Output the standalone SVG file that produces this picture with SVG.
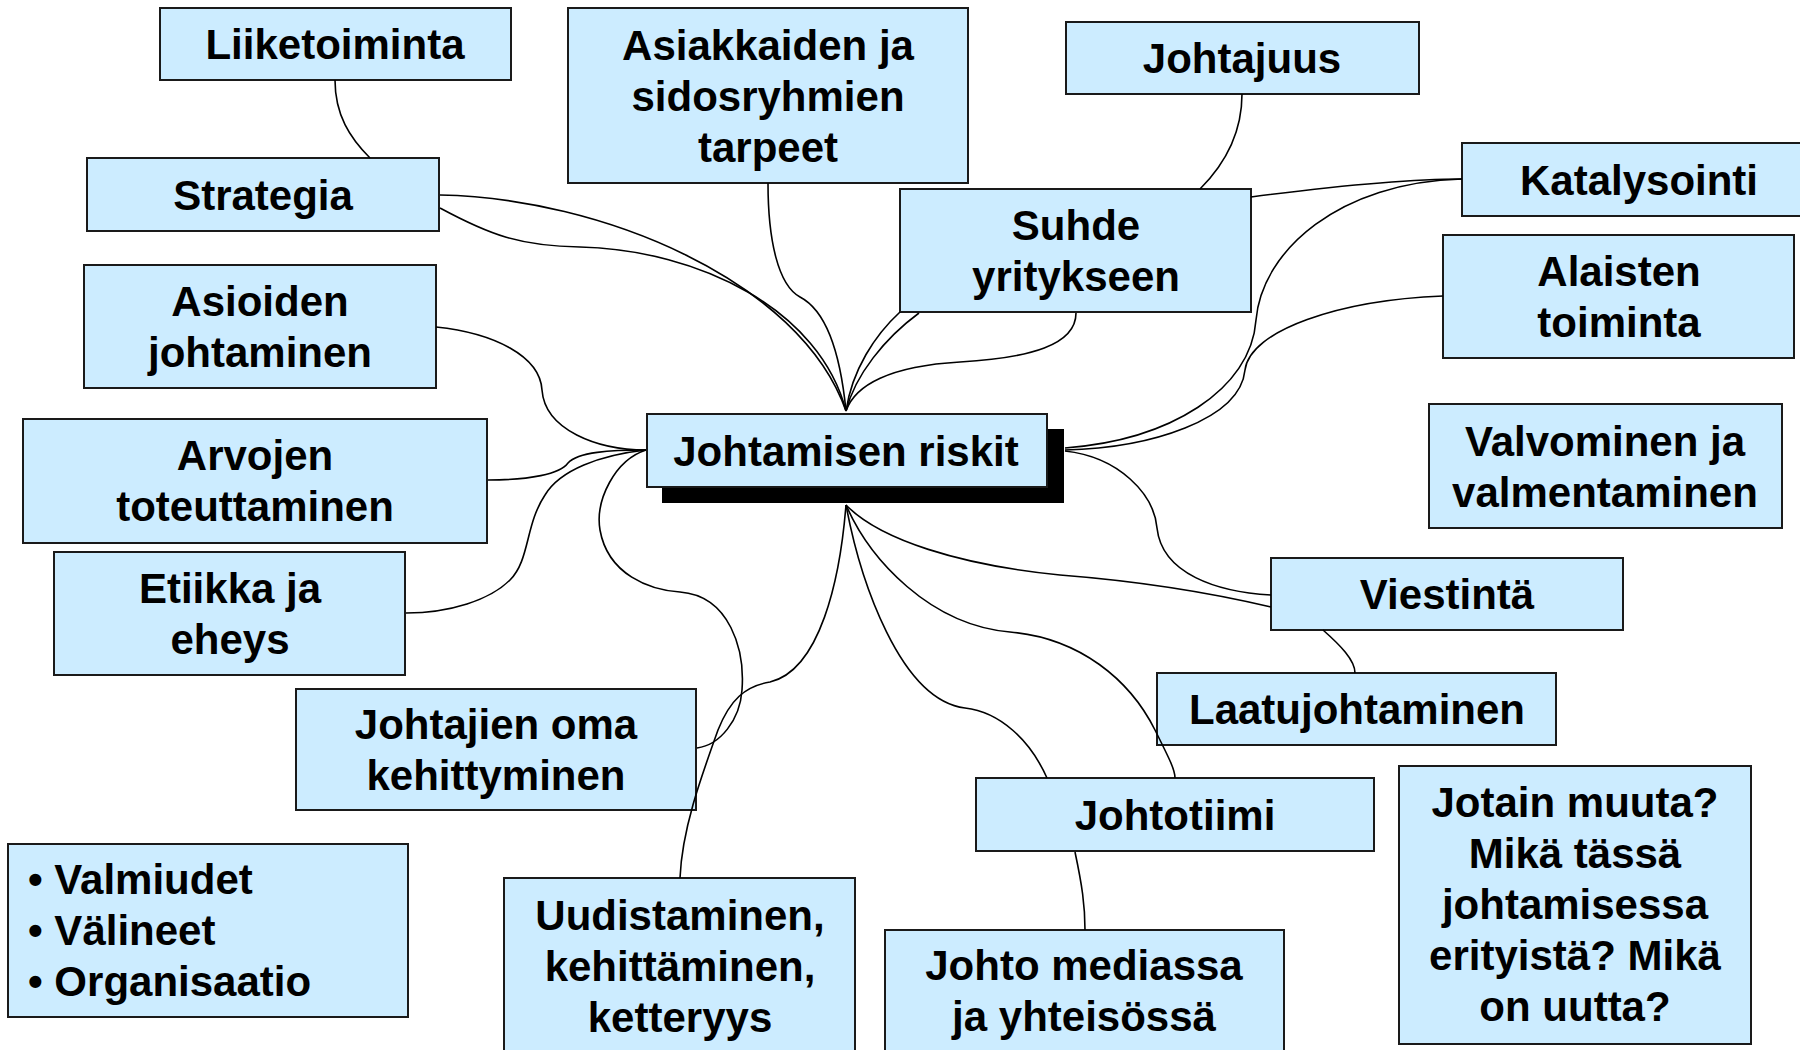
<svg xmlns="http://www.w3.org/2000/svg" width="1800" height="1050" viewBox="0 0 1800 1050">
<style>
.box{fill:#CCECFF;stroke:#1a1a1a;stroke-width:2}
.sh{fill:#000}
.t{font-family:"Liberation Sans",Arial,sans-serif;font-weight:bold;font-size:42px;fill:#000;text-anchor:middle}
.l{text-anchor:start}
.c{fill:none;stroke:#000;stroke-width:1.6}
</style>
<rect width="1800" height="1050" fill="#fff"/>
<g id="n-liiketoiminta"><rect class="box" x="160" y="8" width="351" height="72"/><text class="t" x="335" y="59">Liiketoiminta</text></g>
<g id="n-strategia"><rect class="box" x="87" y="158" width="352" height="73"/><text class="t" x="263" y="210">Strategia</text></g>
<g id="n-asioiden"><rect class="box" x="84" y="265" width="352" height="123"/><text class="t" x="260" y="316">Asioiden</text><text class="t" x="260" y="367">johtaminen</text></g>
<g id="n-arvojen"><rect class="box" x="23" y="419" width="464" height="124"/><text class="t" x="255" y="470">Arvojen</text><text class="t" x="255" y="521">toteuttaminen</text></g>
<g id="n-etiikka"><rect class="box" x="54" y="552" width="351" height="123"/><text class="t" x="230" y="603">Etiikka ja</text><text class="t" x="230" y="654">eheys</text></g>
<g id="n-johtajien"><rect class="box" x="296" y="689" width="400" height="121"/><text class="t" x="496" y="739">Johtajien oma</text><text class="t" x="496" y="790">kehittyminen</text></g>
<g id="n-valmiudet"><rect class="box" x="8" y="844" width="400" height="173"/><text class="t l" x="28" y="894">• Valmiudet</text><text class="t l" x="28" y="945">• Välineet</text><text class="t l" x="28" y="996">• Organisaatio</text></g>
<g id="n-uudistaminen"><rect class="box" x="504" y="878" width="351" height="185"/><text class="t" x="680" y="930">Uudistaminen,</text><text class="t" x="680" y="981">kehittäminen,</text><text class="t" x="680" y="1032">ketteryys</text></g>
<g id="n-asiakkaiden"><rect class="box" x="568" y="8" width="400" height="175"/><text class="t" x="768" y="60">Asiakkaiden ja</text><text class="t" x="768" y="111">sidosryhmien</text><text class="t" x="768" y="162">tarpeet</text></g>
<g id="n-johtajuus"><rect class="box" x="1066" y="22" width="353" height="72"/><text class="t" x="1242" y="73">Johtajuus</text></g>
<g id="n-suhde"><rect class="box" x="900" y="189" width="351" height="123"/><text class="t" x="1076" y="240">Suhde</text><text class="t" x="1076" y="291">yritykseen</text></g>
<g id="n-katalysointi"><rect class="box" x="1462" y="143" width="350" height="73"/><text class="t" x="1639" y="195">Katalysointi</text></g>
<g id="n-alaisten"><rect class="box" x="1443" y="235" width="351" height="123"/><text class="t" x="1619" y="286">Alaisten</text><text class="t" x="1619" y="337">toiminta</text></g>
<g id="n-valvominen"><rect class="box" x="1429" y="404" width="353" height="124"/><text class="t" x="1605" y="456">Valvominen ja</text><text class="t" x="1605" y="507">valmentaminen</text></g>
<g id="n-viestinta"><rect class="box" x="1271" y="558" width="352" height="72"/><text class="t" x="1447" y="609">Viestintä</text></g>
<g id="n-laatu"><rect class="box" x="1157" y="673" width="399" height="72"/><text class="t" x="1357" y="724">Laatujohtaminen</text></g>
<g id="n-johtotiimi"><rect class="box" x="976" y="778" width="398" height="73"/><text class="t" x="1175" y="830">Johtotiimi</text></g>
<g id="n-johtomedia"><rect class="box" x="885" y="930" width="399" height="133"/><text class="t" x="1084" y="980">Johto mediassa</text><text class="t" x="1084" y="1031">ja yhteisössä</text></g>
<g id="n-jotain"><rect class="box" x="1399" y="766" width="352" height="278"/><text class="t" x="1575" y="817">Jotain muuta?</text><text class="t" x="1575" y="868">Mikä tässä</text><text class="t" x="1575" y="919">johtamisessa</text><text class="t" x="1575" y="970">erityistä? Mikä</text><text class="t" x="1575" y="1021">on uutta?</text></g>
<g id="connectors">
<path class="c" d="M335,80 C335,115 350,138 370,158"/>
<path class="c" d="M440,195 C600,198 800,280 846,411"/>
<path class="c" d="M440,208 C490,235 520,246 580,247 C700,250 820,310 846,411"/>
<path class="c" d="M768,183 C768,240 778,285 800,297 C825,310 840,350 846,411"/>
<path class="c" d="M900,312 C875,335 852,370 846,411"/>
<path class="c" d="M919,313 C885,338 855,375 846,411"/>
<path class="c" d="M1076,313 C1076,345 1030,358 960,362 C890,366 855,385 846,411"/>
<path class="c" d="M1242,94 C1242,132 1226,163 1200,189"/>
<path class="c" d="M1251,197 C1320,188 1400,179 1462,179"/>
<path class="c" d="M1462,179 C1340,182 1262,250 1256,320 C1251,390 1170,440 1065,448"/>
<path class="c" d="M1443,296 C1340,300 1250,330 1245,370 C1240,420 1150,448 1065,450"/>
<path class="c" d="M1065,451 C1119,457 1154,494 1157,528 C1162,574 1217,592 1271,595"/>
<path class="c" d="M846,505 C880,540 960,565 1060,575 C1150,582 1220,595 1271,607"/>
<path class="c" d="M1323,630 C1340,645 1355,660 1355,673"/>
<path class="c" d="M846,505 C870,560 930,625 1010,632 C1080,638 1130,680 1155,730 C1170,760 1175,770 1175,778"/>
<path class="c" d="M846,505 C860,580 900,700 965,708 C1000,712 1030,740 1047,778"/>
<path class="c" d="M1075,852 C1082,885 1085,905 1085,930"/>
<path class="c" d="M436,327 C494,333 540,356 542,390 C545,430 597,450 646,450"/>
<path class="c" d="M488,480 C530,480 560,474 568,463 C578,452 610,450 646,450"/>
<path class="c" d="M646,450 C600,455 560,470 545,495 C525,525 530,560 510,580 C490,600 450,613 406,613"/>
<path class="c" d="M646,450 C615,460 595,500 600,530 C608,575 650,590 680,592 C730,596 745,650 742,690 C740,720 720,745 697,748"/>
<path class="c" d="M846,505 C840,580 820,670 770,682 C745,686 730,700 718,730 C700,780 682,830 680,878"/>
</g>
<g id="n-center"><rect class="sh" x="662" y="429" width="402" height="74"/><rect class="box" x="647" y="414" width="400" height="73"/><text class="t" x="846" y="466">Johtamisen riskit</text></g>
</svg>
